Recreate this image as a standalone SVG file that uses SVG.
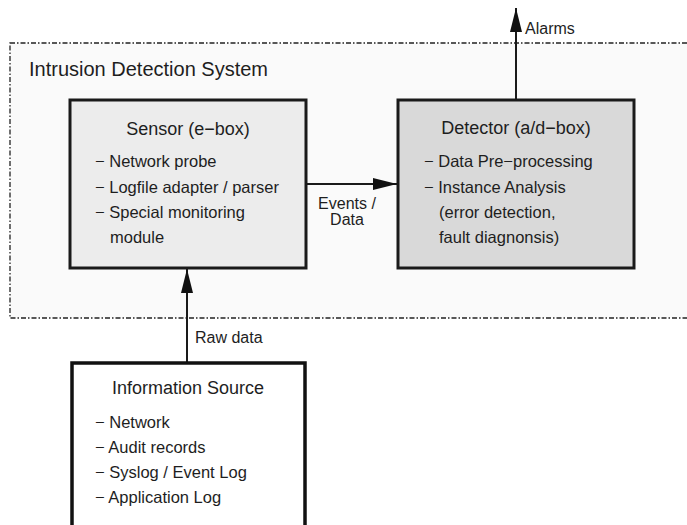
<svg xmlns="http://www.w3.org/2000/svg" width="687" height="525" viewBox="0 0 687 525">
  <style>
    text { font-family: "Liberation Sans", Arial, sans-serif; fill: #1e1e1e; }
    .title { font-size: 20px; }
    .head { font-size: 18px; text-anchor: middle; }
    .item { font-size: 16.5px; }
    .lbl { font-size: 16px; }
    .box { stroke: #1a1a1a; stroke-width: 3; }
    .wire { stroke: #1a1a1a; stroke-width: 2; fill: none; }
  </style>
  <defs>
    <marker id="arrow" markerUnits="userSpaceOnUse" markerWidth="24" markerHeight="12" refX="24" refY="6" orient="auto">
      <path d="M0,0 L24,6 L0,12 z" fill="#111"/>
    </marker>
  </defs>

  <rect width="687" height="525" fill="#ffffff"/>

  <!-- system boundary -->
  <g id="ids-boundary">
    <rect x="10" y="43" width="700" height="275" fill="#fafafa" stroke="#222" stroke-width="1.3" stroke-dasharray="5 2 1.5 2"/>
    <text class="title" x="29" y="76">Intrusion Detection System</text>
  </g>

  <g id="connectors">
    <line class="wire" x1="516" y1="100" x2="516" y2="8" marker-end="url(#arrow)"/>
    <text class="lbl" x="525" y="34">Alarms</text>
    <line class="wire" x1="306" y1="184" x2="397" y2="184" marker-end="url(#arrow)"/>
    <text class="lbl" x="347" y="209" text-anchor="middle">Events /</text>
    <text class="lbl" x="347" y="225" text-anchor="middle">Data</text>
    <line class="wire" x1="187" y1="363" x2="187" y2="269" marker-end="url(#arrow)"/>
    <text class="lbl" x="195" y="343">Raw data</text>
  </g>

  <g id="sensor">
    <rect class="box" x="70" y="100" width="236" height="168" fill="#ececec"/>
    <text class="head" x="188" y="135">Sensor (e−box)</text>
    <text class="item" x="95" y="167">− Network probe</text>
    <text class="item" x="95" y="193">− Logfile adapter / parser</text>
    <text class="item" x="95" y="218">− Special monitoring</text>
    <text class="item" x="110" y="243">module</text>
  </g>

  <g id="detector">
    <rect class="box" x="398" y="100" width="236" height="168" fill="#d9d9d9"/>
    <text class="head" x="516" y="134">Detector (a/d−box)</text>
    <text class="item" x="424" y="167">− Data Pre−processing</text>
    <text class="item" x="424" y="193">− Instance Analysis</text>
    <text class="item" x="439" y="218">(error detection,</text>
    <text class="item" x="439" y="243">fault diagnonsis)</text>
  </g>

  <g id="information-source">
    <rect x="72" y="363" width="233" height="180" fill="#ffffff" stroke="#111" stroke-width="3.5"/>
    <text class="head" x="188" y="394">Information Source</text>
    <text class="item" x="95" y="428">− Network</text>
    <text class="item" x="95" y="453">− Audit records</text>
    <text class="item" x="95" y="478">− Syslog / Event Log</text>
    <text class="item" x="95" y="503">− Application Log</text>
  </g>
</svg>
